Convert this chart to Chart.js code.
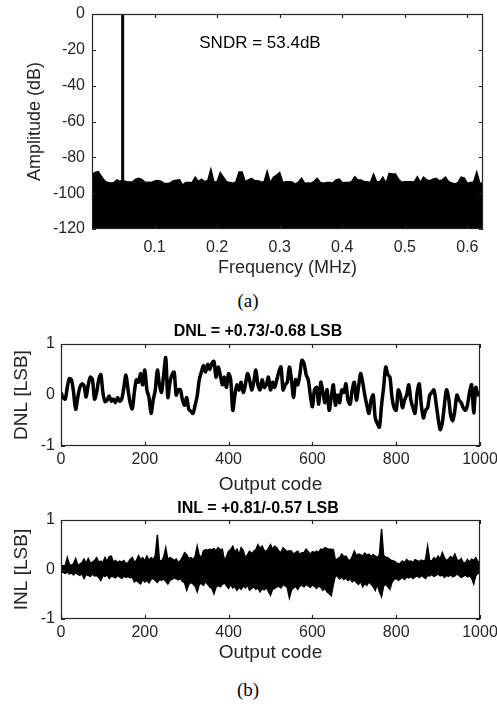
<!DOCTYPE html>
<html>
<head>
<meta charset="utf-8">
<script src="https://cdn.jsdelivr.net/npm/chart.js@4.4.1/dist/chart.umd.min.js"></script>
<style>
  html, body { margin: 0; padding: 0; background: #fff; }
  body { width: 497px; height: 706px; position: relative; overflow: hidden; font-family: 'Liberation Sans', Arial, sans-serif; color: #000; }
  canvas { position: absolute; left: 0; }
  .txt { position: absolute; white-space: nowrap; transform: translate(-50%, -50%); }
  .cap { font-family: 'Liberation Serif', 'Times New Roman', serif; font-size: 19px; }
  .ttl { font-weight: bold; font-size: 16px; }
</style>
</head>
<body>
<canvas id="fft" width="497" height="285" style="top:0px"></canvas>
<canvas id="dnl" width="497" height="180" style="top:320px"></canvas>
<canvas id="inl" width="497" height="175" style="top:500px"></canvas>

<div class="txt" style="left:260px;top:43px;font-size:17px">SNDR = 53.4dB</div>
<div class="txt cap" style="left:248px;top:301px">(a)</div>
<div class="txt ttl" style="left:258px;top:331px">DNL = +0.73/-0.68 LSB</div>
<div class="txt ttl" style="left:258px;top:508px">INL = +0.81/-0.57 LSB</div>
<div class="txt cap" style="left:248px;top:690px">(b)</div>

<script>
// ---- spectrum (a) ----
const binStep = 0.005;               // MHz between envelope samples
const sigFreq = 0.049;               // input tone
const sigDb = 0;
// top of the noise floor, dB, every 0.005 MHz
const floorDb = [
  -89.5, -88.5, -88.0, -90.7, -93.0, -94.1, -94.3, -94.1, -92.6, -93.4,
  -93.0, -93.6, -93.8, -93.6, -92.2, -91.7, -92.4, -94.0, -93.9, -94.1,
  -93.2, -93.0, -93.3, -94.5, -94.6, -94.3, -93.0, -92.8, -92.6, -95.5,
  -94.1, -94.0, -94.1, -91.1, -93.6, -92.2, -93.5, -93.0, -86.7, -93.9,
  -93.5, -88.5, -91.1, -93.6, -94.0, -94.5, -93.8, -88.2, -88.2, -93.6,
  -92.6, -91.7, -93.0, -93.0, -93.6, -93.8, -87.8, -94.1, -91.1, -90.0,
  -88.5, -94.1, -93.6, -93.6, -93.8, -94.9, -93.8, -91.7, -94.5, -94.3,
  -94.5, -93.4, -91.7, -94.0, -94.5, -94.1, -94.1, -94.3, -92.6, -92.2,
  -94.1, -94.1, -94.0, -93.6, -90.8, -92.6, -92.6, -93.6, -93.6, -94.0,
  -89.3, -93.6, -93.6, -91.1, -94.5, -89.0, -89.3, -89.3, -92.2, -93.9,
  -93.6, -93.6, -93.6, -93.8, -90.8, -94.0, -91.1, -92.6, -93.0, -92.2,
  -91.7, -93.0, -92.6, -91.1, -93.6, -94.3, -94.9, -94.1, -91.1, -91.5,
  -94.5, -94.1, -93.8, -88.3, -94.5, -94.5
];
const freqTicks = [0.1, 0.2, 0.3, 0.4, 0.5, 0.6];
const dbTicks = [-120, -100, -80, -60, -40, -20, 0];

// ---- DNL / INL (b) ----
const codeStep = 5;
const dnl = [
  0.05, -0.05, -0.08, 0.15, 0.32, 0.30, 0.05, -0.28, -0.05, 0.15,
  0.22, 0.18, -0.04, 0.20, 0.35, 0.30, -0.08, 0.05, 0.30, 0.40,
  0.05, -0.13, -0.10, -0.02, -0.12, -0.08, -0.15, -0.05, -0.12, -0.08,
  0.15, 0.39, 0.10, -0.15, -0.27, 0.05, 0.30, 0.25, 0.42, 0.20,
  0.49, 0.10, -0.05, -0.36, -0.10, 0.10, 0.49, 0.20, 0.05, 0.40,
  0.73, -0.05, 0.25, 0.40, 0.45, 0.00, 0.10, 0.10, -0.10, -0.20,
  -0.05, -0.28, -0.32, -0.36, -0.20, -0.02, 0.30, 0.45, 0.58, 0.45,
  0.60, 0.50, 0.62, 0.66, 0.35, 0.55, 0.40, 0.20, 0.35, 0.15,
  0.42, 0.30, -0.30, 0.00, 0.20, 0.10, 0.25, 0.05, 0.20, 0.42,
  0.30, 0.10, 0.25, 0.49, 0.20, 0.10, 0.30, 0.15, 0.20, 0.35,
  0.10, 0.25, 0.15, 0.30, 0.45, 0.55, 0.10, 0.20, 0.25, 0.55,
  0.30, -0.05, 0.30, 0.20, 0.40, 0.68, 0.62, 0.40, 0.30, 0.00,
  -0.23, 0.10, 0.15, -0.18, 0.25, 0.05, -0.15, 0.10, -0.30, -0.05,
  0.20, -0.20, 0.00, -0.15, 0.10, 0.05, 0.22, -0.10, -0.18, 0.10,
  0.25, -0.10, 0.15, 0.42, 0.25, 0.00, -0.20, -0.36, -0.10, 0.00,
  -0.45, -0.56, -0.63, -0.20, 0.15, 0.55, 0.40, 0.35, -0.05, -0.25,
  -0.30, 0.10, 0.00, -0.25, -0.10, 0.00, 0.20, -0.10, -0.25, -0.36,
  0.05, 0.22, -0.20, -0.45, -0.30, -0.25, 0.00, 0.05, 0.10, -0.15,
  -0.45, -0.68, -0.55, -0.20, 0.10, -0.05, -0.40, -0.50, -0.30, 0.00,
  -0.10, -0.15, -0.25, -0.30, -0.20, 0.05, 0.20, -0.35, 0.15, 0.00,
  0.05
];
// INL drawn as the band between its upper and lower excursions
const inlHigh = [
  0.05, 0.08, 0.07, 0.24, 0.10, 0.08, 0.12, 0.22, 0.09, 0.11,
  0.14, 0.21, 0.12, 0.22, 0.13, 0.15, 0.18, 0.24, 0.15, 0.17,
  0.14, 0.24, 0.16, 0.26, 0.27, 0.15, 0.18, 0.14, 0.17, 0.15,
  0.18, 0.12, 0.14, 0.20, 0.24, 0.15, 0.18, 0.28, 0.20, 0.24,
  0.17, 0.27, 0.18, 0.24, 0.20, 0.28, 0.70, 0.18, 0.17, 0.25,
  0.44, 0.20, 0.24, 0.22, 0.18, 0.21, 0.14, 0.18, 0.25, 0.34,
  0.30, 0.22, 0.24, 0.20, 0.26, 0.47, 0.28, 0.24, 0.38, 0.40,
  0.39, 0.41, 0.40, 0.42, 0.38, 0.44, 0.40, 0.41, 0.18, 0.26,
  0.37, 0.40, 0.47, 0.35, 0.41, 0.30, 0.44, 0.38, 0.24, 0.30,
  0.37, 0.32, 0.37, 0.40, 0.50, 0.42, 0.47, 0.38, 0.37, 0.42,
  0.50, 0.41, 0.47, 0.44, 0.37, 0.34, 0.44, 0.40, 0.36, 0.38,
  0.37, 0.31, 0.34, 0.37, 0.30, 0.34, 0.34, 0.41, 0.36, 0.31,
  0.36, 0.34, 0.37, 0.34, 0.41, 0.40, 0.44, 0.42, 0.41, 0.41,
  0.40, 0.18, 0.22, 0.24, 0.31, 0.26, 0.27, 0.20, 0.18, 0.26,
  0.37, 0.28, 0.31, 0.30, 0.27, 0.33, 0.29, 0.31, 0.26, 0.30,
  0.27, 0.24, 0.30, 0.82, 0.28, 0.25, 0.24, 0.20, 0.18, 0.17,
  0.14, 0.11, 0.13, 0.17, 0.14, 0.20, 0.16, 0.17, 0.14, 0.20,
  0.18, 0.16, 0.19, 0.17, 0.20, 0.47, 0.18, 0.17, 0.24, 0.20,
  0.27, 0.21, 0.34, 0.24, 0.18, 0.21, 0.26, 0.22, 0.31, 0.20,
  0.17, 0.22, 0.14, 0.13, 0.20, 0.15, 0.21, 0.18, 0.24, 0.16,
  0.14
];
const inlLow = [
  -0.03, -0.06, -0.08, -0.05, -0.09, -0.07, -0.11, -0.06, -0.10, -0.12,
  -0.08, -0.18, -0.10, -0.12, -0.14, -0.09, -0.13, -0.12, -0.16, -0.22,
  -0.12, -0.14, -0.11, -0.18, -0.13, -0.15, -0.17, -0.12, -0.15, -0.18,
  -0.13, -0.16, -0.14, -0.17, -0.15, -0.25, -0.22, -0.26, -0.29, -0.20,
  -0.25, -0.22, -0.27, -0.20, -0.18, -0.22, -0.26, -0.20, -0.22, -0.19,
  -0.24, -0.29, -0.22, -0.20, -0.17, -0.19, -0.21, -0.18, -0.24, -0.27,
  -0.42, -0.30, -0.26, -0.29, -0.33, -0.45, -0.30, -0.28, -0.32, -0.24,
  -0.30, -0.35, -0.38, -0.49, -0.36, -0.32, -0.35, -0.30, -0.27, -0.33,
  -0.38, -0.30, -0.37, -0.34, -0.42, -0.36, -0.40, -0.33, -0.37, -0.31,
  -0.42, -0.38, -0.35, -0.40, -0.37, -0.45, -0.39, -0.41, -0.36, -0.44,
  -0.52, -0.40, -0.38, -0.35, -0.34, -0.37, -0.30, -0.33, -0.36, -0.57,
  -0.42, -0.37, -0.34, -0.40, -0.33, -0.32, -0.35, -0.30, -0.33, -0.36,
  -0.31, -0.34, -0.38, -0.33, -0.36, -0.42, -0.38, -0.45, -0.49, -0.53,
  -0.30, -0.12, -0.14, -0.19, -0.15, -0.20, -0.17, -0.22, -0.19, -0.25,
  -0.21, -0.26, -0.30, -0.24, -0.35, -0.28, -0.32, -0.25, -0.30, -0.34,
  -0.42, -0.30, -0.45, -0.55, -0.33, -0.30, -0.35, -0.40, -0.26, -0.20,
  -0.18, -0.22, -0.19, -0.16, -0.20, -0.15, -0.17, -0.14, -0.18, -0.15,
  -0.13, -0.16, -0.12, -0.15, -0.18, -0.12, -0.13, -0.10, -0.14, -0.12,
  -0.09, -0.13, -0.11, -0.16, -0.12, -0.14, -0.10, -0.15, -0.13, -0.09,
  -0.12, -0.16, -0.14, -0.11, -0.15, -0.13, -0.17, -0.29, -0.12, -0.08,
  -0.05
];
const codeTicks = [0, 200, 400, 600, 800, 1000];
const lsbTicks = [-1, 0, 1];

const FONT = "'Liberation Sans', Arial, sans-serif";
const AXIS = '#262626';
Chart.defaults.font.family = FONT;
Chart.defaults.color = AXIS;

// matlab style box with ticks pointing inwards
const framePlugin = {
  id: 'frame',
  afterDraw(chart) {
    const { ctx, chartArea: a, scales: { x, y } } = chart;
    ctx.save();
    ctx.strokeStyle = AXIS;
    ctx.lineWidth = 1.2;
    ctx.strokeRect(a.left + 0.5, a.top + 0.5, a.right - a.left - 1, a.bottom - a.top - 1);
    ctx.beginPath();
    x.ticks.forEach(t => {
      const px = Math.round(x.getPixelForValue(t.value)) + 0.5;
      ctx.moveTo(px, a.bottom); ctx.lineTo(px, a.bottom - 4);
      ctx.moveTo(px, a.top); ctx.lineTo(px, a.top + 4);
    });
    y.ticks.forEach(t => {
      const py = Math.round(y.getPixelForValue(t.value)) + 0.5;
      ctx.moveTo(a.left, py); ctx.lineTo(a.left + 4, py);
      ctx.moveTo(a.right, py); ctx.lineTo(a.right - 4, py);
    });
    ctx.stroke();
    ctx.restore();
  }
};

function xAxis(min, max, ticks, title, height, tickPad, titlePad, titleSize) {
  return {
    type: 'linear', min: min, max: max,
    afterBuildTicks: s => { s.ticks = ticks.map(v => ({ value: v })); },
    afterFit: s => { s.height = height; s.paddingLeft = 0; s.paddingRight = 0; },
    grid: { display: false, drawTicks: false },
    border: { display: false },
    ticks: { padding: tickPad, maxRotation: 0, autoSkip: false, font: { size: 16 }, callback: v => String(v) },
    title: { display: true, text: title, color: AXIS, font: { size: titleSize }, padding: { top: 0, bottom: titlePad } }
  };
}

function yAxis(min, max, ticks, title, width, tickPad, titlePad, titleSize) {
  return {
    min: min, max: max,
    afterBuildTicks: s => { s.ticks = ticks.map(v => ({ value: v })); },
    afterFit: s => { s.width = width; s.paddingTop = 0; s.paddingBottom = 0; },
    grid: { display: false, drawTicks: false },
    border: { display: false },
    ticks: { padding: tickPad, font: { size: 16 }, callback: v => String(v) },
    title: { display: true, text: title, color: AXIS, font: { size: titleSize }, padding: { top: titlePad, bottom: 0 } }
  };
}

const baseOpts = {
  responsive: false,
  animation: false,
  devicePixelRatio: 1,
  plugins: { legend: { display: false }, tooltip: { enabled: false } },
  elements: { point: { radius: 0 }, line: { tension: 0 } }
};

// (a) spectrum
new Chart(document.getElementById('fft'), {
  type: 'line',
  data: {
    datasets: [
      {
        data: [{ x: sigFreq, y: -120 }, { x: sigFreq, y: sigDb }],
        borderColor: '#000', borderWidth: 3, fill: false
      },
      {
        data: floorDb.map((v, i) => ({ x: i * binStep, y: v })),
        borderColor: '#000', backgroundColor: '#000', borderWidth: 1.5,
        fill: 'start'
      }
    ]
  },
  options: Object.assign({}, baseOpts, {
    layout: { padding: { left: 0, right: 14, top: 14, bottom: 0 } },
    scales: {
      x: xAxis(0, 0.625, freqTicks, 'Frequency (MHz)', 56, 9, 6, 18),
      y: yAxis(-120, 0, dbTicks, 'Amplitude (dB)', 92, 7, 24, 18)
    }
  }),
  plugins: [framePlugin]
});

// (b) DNL
new Chart(document.getElementById('dnl'), {
  type: 'line',
  data: {
    datasets: [{
      data: dnl.map((v, i) => ({ x: i * codeStep, y: v })),
      borderColor: '#000', borderWidth: 3.5, tension: 0.3, fill: false
    }]
  },
  options: Object.assign({}, baseOpts, {
    layout: { padding: { left: 0, right: 17, top: 24, bottom: 0 } },
    scales: {
      x: xAxis(0, 1000, codeTicks, 'Output code', 54, 4, 4, 19),
      y: yAxis(-1, 1, lsbTicks, 'DNL [LSB]', 61, 6, 10, 19)
    }
  }),
  plugins: [framePlugin]
});

// (b) INL
new Chart(document.getElementById('inl'), {
  type: 'line',
  data: {
    datasets: [
      {
        data: inlHigh.map((v, i) => ({ x: i * codeStep, y: v })),
        borderColor: '#000', backgroundColor: '#000', borderWidth: 1.5, fill: '+1'
      },
      {
        data: inlLow.map((v, i) => ({ x: i * codeStep, y: v })),
        borderColor: '#000', borderWidth: 1.5, fill: false
      }
    ]
  },
  options: Object.assign({}, baseOpts, {
    layout: { padding: { left: 0, right: 17, top: 20, bottom: 0 } },
    scales: {
      x: xAxis(0, 1000, codeTicks, 'Output code', 56, 4, 11, 19),
      y: yAxis(-1, 1, lsbTicks, 'INL [LSB]', 61, 6, 10, 19)
    }
  }),
  plugins: [framePlugin]
});
</script>
</body>
</html>
